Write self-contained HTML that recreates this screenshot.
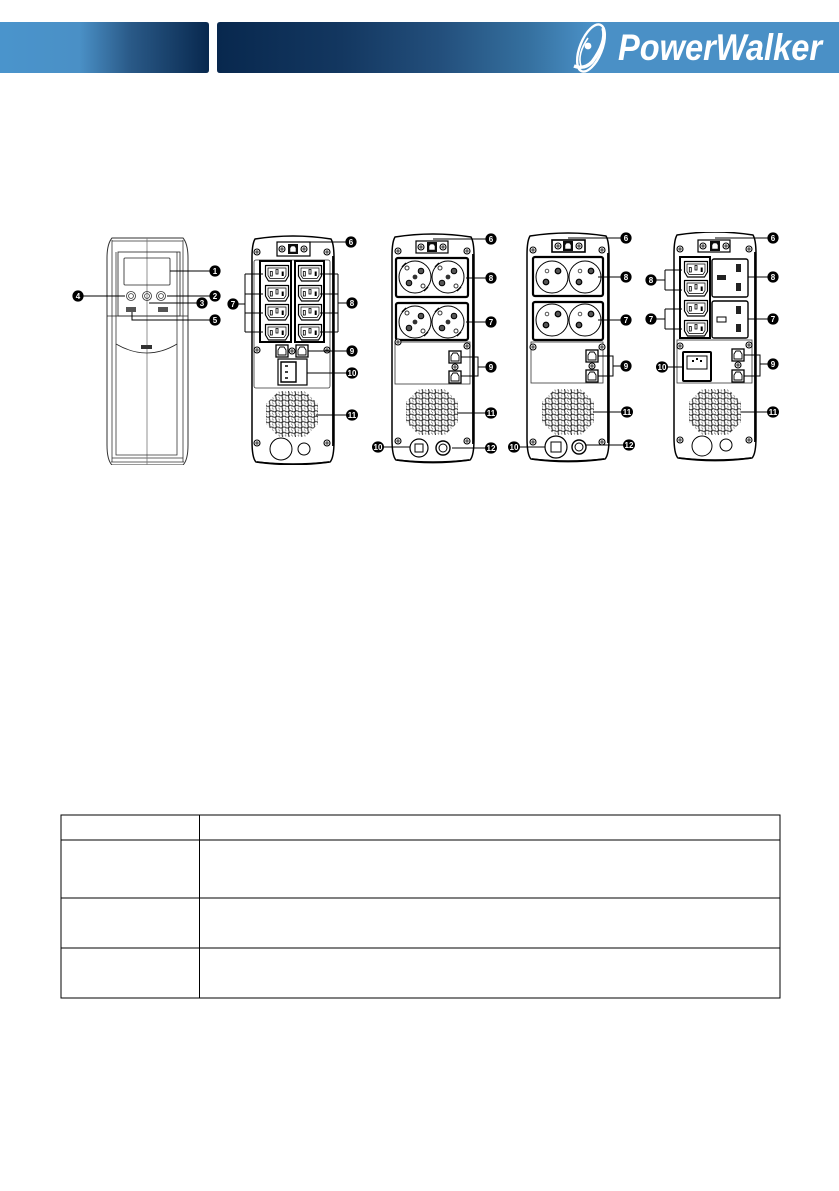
<!DOCTYPE html>
<html><head><meta charset="utf-8">
<style>
html,body{margin:0;padding:0;background:#fff;width:839px;height:1191px;overflow:hidden}
svg{display:block}
text{font-family:"Liberation Sans",sans-serif}
.n{font-size:8px;font-weight:bold;fill:#fff;text-anchor:middle}
</style></head><body>
<svg width="839" height="1191" viewBox="0 0 839 1191" xmlns="http://www.w3.org/2000/svg">
<defs>
<filter id="soft" x="0" y="0" width="1" height="1"><feGaussianBlur stdDeviation="0.3"/></filter>
<linearGradient id="g1" x1="0" x2="1" y1="0" y2="0">
<stop offset="0" stop-color="#4a94cc"/><stop offset=".38" stop-color="#4a90c6"/><stop offset=".62" stop-color="#2a5a88"/><stop offset="1" stop-color="#08284e"/></linearGradient>
<linearGradient id="g2" x1="0" x2="1" y1="0" y2="0">
<stop offset="0" stop-color="#08284e"/><stop offset=".2" stop-color="#133760"/><stop offset=".36" stop-color="#234f7c"/><stop offset=".5" stop-color="#35709f"/><stop offset=".6" stop-color="#4a90c6"/><stop offset="1" stop-color="#4a90c6"/></linearGradient>
<pattern id="mesh" width="6.4" height="5.4" patternUnits="userSpaceOnUse">
<rect width="6.4" height="5.4" fill="#fff"/>
<circle cx="1.6" cy="1.35" r="1.9" fill="#fff" stroke="#222" stroke-width=".9"/><circle cx="4.8" cy="4.05" r="1.9" fill="#fff" stroke="#222" stroke-width=".9"/></pattern>
<polygon id="grill" points="-26,-10 -13,-23 13,-23 26,-10 26,10 13,23 -13,23 -26,10" fill="url(#mesh)"/>
<g id="screw"><circle r="3" fill="#fff" stroke="#000" stroke-width="1.1"/><path d="M-2 0H2M0-2V2" stroke="#000" stroke-width=".8"/></g>
<g id="iec"><path d="M-11.5-7.5H11.5V3L8.5 8H-8.5L-11.5 3Z" fill="#fff" stroke="#000" stroke-width="1.2" stroke-linejoin="round"/>
<path d="M-9-5H9V2.5L7 5.5H-7L-9 2.5Z" fill="#fff" stroke="#000" stroke-width=".7"/>
<rect x="-6.7" y="-1.5" width="2" height="4.5" fill="none" stroke="#000" stroke-width=".8"/>
<rect x="-1" y="-3.5" width="2" height="4.5" fill="none" stroke="#000" stroke-width=".8"/>
<rect x="4.7" y="-1.5" width="2" height="4.5" fill="#000"/></g>
<g id="rj"><rect x="-6" y="-6" width="12" height="12" fill="#fff" stroke="#000" stroke-width="1.3"/>
<path d="M-4 4V-1L-2-4H2L4-1V4Z" fill="none" stroke="#000" stroke-width=".9"/></g>
<g id="usb"><rect x="-5" y="-5" width="10" height="10" fill="#111"/><path d="M-3 3V-1L-1.5-3H1.5L3-1V3Z" fill="#fff" stroke="#000" stroke-width=".5"/></g>
<g id="sch"><circle r="16" fill="#fff" stroke="#000" stroke-width="1"/><circle r="2.4" fill="#333" cx="0" cy="0"/>
<circle cx="-8" cy="-9" r="2" fill="#fff" stroke="#333"/><circle cx="8" cy="9" r="2" fill="#fff" stroke="#333"/>
<circle cx="-6" cy="6" r="2.8" fill="#555" stroke="#000"/><circle cx="6" cy="-6" r="2.8" fill="#555" stroke="#000"/>
<path d="M-13-10-9-14M9 14 13 10" stroke="#000" stroke-width="1.4"/></g>
<g id="fr"><circle r="16" fill="#fff" stroke="#000" stroke-width="1"/>
<circle cx="-5" cy="-6" r="1.8" fill="#fff" stroke="#444" stroke-width=".9"/><circle cx="6" cy="-6" r="2.8" fill="#555" stroke="#000" stroke-width="1.2"/><circle cx="-6" cy="5" r="2.8" fill="#555" stroke="#000" stroke-width="1.2"/></g>
<g id="body"><path d="M2 3Q40-3 78 3Q81 8 81 22V205Q81 222 77 226Q40 230 3 226Q-1 222-1 205V22Q-1 8 2 3Z" fill="#fff" stroke="#000" stroke-width="1.5"/>
<path d="M80 20V210" stroke="#000" stroke-width="1.8"/><path d="M4 226Q40 231 76 226" stroke="#000" stroke-width="1.8" fill="none"/></g>
</defs>

<!-- header -->
<path d="M0 22H206Q209 22 209 25V70Q209 73 206 73H0Z" fill="url(#g1)"/>
<path d="M220 22H839V73H220Q217 73 217 70V25Q217 22 220 22Z" fill="url(#g2)"/>
<g fill="none" stroke="#fff">
<ellipse cx="591" cy="48" rx="11" ry="25" transform="rotate(22 591 48)" stroke-width="2.4"/>
<path d="M603 28Q607 42 592 62Q584 70 574 66" stroke-width="3.4"/>
<path d="M581 66Q577 54 588 38" stroke-width="1.6"/>
</g>
<circle cx="588" cy="46" r="3.4" fill="#fff"/>
<text x="618" y="60" font-size="37" font-weight="bold" font-style="italic" fill="#fff" textLength="204" lengthAdjust="spacingAndGlyphs">PowerWalker</text>

<g filter="url(#soft)">
<!-- front unit -->
<g fill="none" stroke="#333" stroke-width=".8">
<path d="M112 238H183Q188 244 188 258V445Q188 460 183 465H112Q107 460 107 445V258Q107 244 112 238Z" stroke-width="1"/>
<path d="M112 241H183M111 462H184M112 458H183"/>
<path d="M112 240V462M183 240V462M116 252V344M177 252V344"/>
<path d="M147 238V465" stroke="#777"/>
<path d="M107 316H188" stroke="#222"/>
<rect x="118" y="252" width="62" height="64" stroke="#222"/>
<rect x="124" y="258" width="46" height="27" rx="1" stroke="#222"/>
<path d="M116 344Q147 362 177 344" stroke="#222"/>
<path d="M116 344V455H177V344"/>
<circle cx="131" cy="296" r="4.5"/><circle cx="131" cy="296" r="2.4"/>
<circle cx="147" cy="296" r="4.5"/><circle cx="147" cy="296" r="2.4"/>
<circle cx="161" cy="296" r="4.5"/><circle cx="161" cy="296" r="2.4"/>
</g>
<rect x="126" y="307" width="10" height="5" fill="#555"/><rect x="158" y="307" width="10" height="5" fill="#555"/>
<rect x="141" y="345" width="11" height="4" fill="#333"/>
<g stroke="#000" stroke-width="1" fill="none">
<path d="M170 271H210M83 296H125M167 296H210M149 303H197M132 312V320H210"/>
</g>

<!-- unit 2 -->
<use href="#body" x="253" y="236"/>
<rect x="254" y="260" width="76" height="128" rx="2" fill="#fff" stroke="#333" stroke-width=".8"/>
<rect x="260" y="261" width="31" height="81" fill="#fff" stroke="#000" stroke-width="2"/>
<rect x="295" y="261" width="29" height="81" fill="#fff" stroke="#000" stroke-width="2"/>
<use href="#iec" x="277" y="273"/><use href="#iec" x="277" y="293"/><use href="#iec" x="277" y="312"/><use href="#iec" x="277" y="332"/>
<use href="#iec" x="310" y="273"/><use href="#iec" x="310" y="293"/><use href="#iec" x="310" y="312"/><use href="#iec" x="310" y="332"/>
<rect x="277" y="242" width="33" height="14" fill="#fff" stroke="#000" stroke-width="1.2"/>
<use href="#usb" x="293" y="249"/><use href="#screw" x="282" y="249"/><use href="#screw" x="304" y="249"/>
<use href="#screw" x="257" y="252"/><use href="#screw" x="327" y="252"/><use href="#screw" x="257" y="350"/><use href="#screw" x="327" y="350"/><use href="#screw" x="257" y="443"/><use href="#screw" x="327" y="443"/>
<use href="#rj" x="282" y="351"/><use href="#rj" x="302" y="351"/><use href="#screw" x="292" y="351"/>
<rect x="278" y="359" width="29" height="26" fill="#fff" stroke="#000" stroke-width="1.2"/>
<path d="M281 362H296V382H281Z" fill="#fff" stroke="#000" stroke-width="1.4"/>
<path d="M285 366H288M285 372H288M285 378H288" stroke="#000" stroke-width="1.4"/>
<use href="#grill" x="292" y="414"/>
<circle cx="281" cy="449" r="11" fill="#fff" stroke="#000" stroke-width="1"/><circle cx="304" cy="449" r="6" fill="#fff" stroke="#000" stroke-width="1"/>
<g stroke="#000" stroke-width="1" fill="none">
<path d="M293 242H347M245 274H263M245 294H263M245 313H263M245 332H263M245 274V332M237 304H245"/>
<path d="M320 274H338M320 294H338M320 313H338M320 332H338M338 274V332M338 303H347"/>
<path d="M308 351H347M307 373H347M316 415H347"/>
</g>

<!-- unit 3 -->
<use href="#body" x="393" y="234"/>
<rect x="395" y="342" width="75" height="42" fill="#fff" stroke="#333" stroke-width=".8"/>
<rect x="396" y="258" width="72" height="39" rx="2" fill="#fff" stroke="#000" stroke-width="2.2"/>
<rect x="396" y="303" width="72" height="37" rx="2" fill="#fff" stroke="#000" stroke-width="2.2"/>
<use href="#sch" x="415" y="277"/><use href="#sch" x="448" y="277"/><use href="#sch" x="415" y="322"/><use href="#sch" x="448" y="322"/>
<rect x="416" y="241" width="32" height="12" fill="#fff" stroke="#000" stroke-width="1.2"/>
<use href="#usb" x="432" y="247"/><use href="#screw" x="421" y="247"/><use href="#screw" x="443" y="247"/>
<use href="#screw" x="398" y="251"/><use href="#screw" x="467" y="251"/><use href="#screw" x="398" y="342"/><use href="#screw" x="467" y="346"/><use href="#screw" x="398" y="441"/><use href="#screw" x="467" y="441"/>
<use href="#rj" x="455" y="357"/><use href="#rj" x="455" y="377"/><use href="#screw" x="455" y="367"/>
<use href="#grill" x="432" y="412"/>
<circle cx="419" cy="448" r="9" fill="#fff" stroke="#000" stroke-width="1.2"/><rect x="415" y="444" width="8" height="8" fill="#fff" stroke="#000"/>
<circle cx="443" cy="448" r="7" fill="#fff" stroke="#000" stroke-width="1.4"/><circle cx="443" cy="448" r="4" fill="none" stroke="#000"/>
<g stroke="#000" stroke-width="1" fill="none">
<path d="M433 239H486M466 278H486M466 322H486M461 357H478V376H461M478 367H486M457 413H486M382 447H410M452 448H485"/>
</g>

<!-- unit 4 -->
<use href="#body" x="528" y="233"/>
<rect x="531" y="342" width="72" height="41" fill="#fff" stroke="#333" stroke-width=".8"/>
<rect x="533" y="257" width="70" height="39" rx="2" fill="#fff" stroke="#000" stroke-width="2.2"/>
<rect x="533" y="302" width="70" height="38" rx="2" fill="#fff" stroke="#000" stroke-width="2.2"/>
<use href="#fr" x="552" y="277"/><use href="#fr" x="585" y="277"/><use href="#fr" x="552" y="320"/><use href="#fr" x="585" y="320"/>
<rect x="552" y="240" width="33" height="12" fill="#fff" stroke="#000" stroke-width="1.6"/>
<use href="#usb" x="568" y="246"/><use href="#screw" x="558" y="246"/><use href="#screw" x="579" y="246"/>
<use href="#screw" x="533" y="250"/><use href="#screw" x="602" y="250"/><use href="#screw" x="533" y="347"/><use href="#screw" x="602" y="347"/><use href="#screw" x="533" y="442"/><use href="#screw" x="602" y="442"/>
<use href="#rj" x="592" y="356"/><use href="#rj" x="592" y="376"/><use href="#screw" x="592" y="366"/>
<use href="#grill" x="568" y="412"/>
<circle cx="556" cy="447" r="11" fill="#fff" stroke="#000" stroke-width="1.2"/><rect x="551" y="442" width="10" height="10" fill="#fff" stroke="#000"/>
<circle cx="579" cy="447" r="7" fill="#fff" stroke="#000" stroke-width="1.4"/><circle cx="579" cy="447" r="4" fill="none" stroke="#000"/>
<g stroke="#000" stroke-width="1" fill="none">
<path d="M568 238H621M598 277H621M598 320H621M598 356H613V376H598M613 366H621M593 412H621M519 447H545M586 445H624"/>
</g>

<!-- unit 5 -->
<use href="#body" x="675" y="232"/>
<rect x="677" y="340" width="75" height="43" fill="#fff" stroke="#333" stroke-width=".8"/>
<rect x="680" y="257" width="30" height="81" fill="#fff" stroke="#000" stroke-width="2"/>
<use href="#iec" x="696" y="269"/><use href="#iec" x="696" y="288"/><use href="#iec" x="696" y="308"/><use href="#iec" x="696" y="328"/>
<rect x="712" y="259" width="36" height="38" rx="2" fill="#fff" stroke="#000" stroke-width="1.4"/>
<rect x="712" y="301" width="36" height="37" rx="2" fill="#fff" stroke="#000" stroke-width="1.4"/>
<g fill="#222"><rect x="717" y="275" width="9" height="5"/><rect x="736" y="264" width="5" height="8"/><rect x="736" y="283" width="5" height="8"/>
<rect x="736" y="306" width="5" height="8"/><rect x="736" y="324" width="5" height="8"/></g>
<rect x="717" y="317" width="9" height="5" fill="#fff" stroke="#000"/>
<rect x="698" y="240" width="32" height="12" fill="#fff" stroke="#000" stroke-width="1.2"/>
<use href="#usb" x="715" y="246"/><use href="#screw" x="703" y="246"/><use href="#screw" x="726" y="246"/>
<use href="#screw" x="680" y="249"/><use href="#screw" x="749" y="249"/><use href="#screw" x="680" y="346"/><use href="#screw" x="749" y="345"/><use href="#screw" x="680" y="440"/><use href="#screw" x="749" y="440"/>
<rect x="683" y="352" width="28" height="29" rx="1" fill="#fff" stroke="#000" stroke-width="2"/>
<path d="M687 356H707V369H687Z" fill="#fff" stroke="#000"/>
<path d="M692 361H694M696 359H698M700 361H702" stroke="#000" stroke-width="2"/>
<use href="#rj" x="738" y="355"/><use href="#rj" x="738" y="376"/><use href="#screw" x="738" y="365"/>
<use href="#grill" x="715" y="412"/>
<circle cx="702" cy="446" r="10" fill="#fff" stroke="#000" stroke-width="1"/><circle cx="726" cy="445" r="6" fill="#fff" stroke="#000" stroke-width="1"/>
<g stroke="#000" stroke-width="1" fill="none">
<path d="M715 238H768M748 277H768M748 319H768M665 270H682M665 290H682M665 270V290M656 280H665M665 309H682M665 329H682M665 329V309M656 319H665"/>
<path d="M667 367H683M744 355H760V376H744M760 364H768M741 412H768"/>
</g>

<!-- number labels -->
<g>
<circle cx="215" cy="271" r="5.6"/><text class="n" x="215" y="274">1</text>
<circle cx="215" cy="296" r="5.6"/><text class="n" x="215" y="299">2</text>
<circle cx="202" cy="303" r="5.6"/><text class="n" x="202" y="306">3</text>
<circle cx="78" cy="296" r="5.6"/><text class="n" x="78" y="299">4</text>
<circle cx="215" cy="320" r="5.6"/><text class="n" x="215" y="323">5</text>
<circle cx="351" cy="242" r="5.6"/><text class="n" x="351" y="245">6</text>
<circle cx="233" cy="304" r="5.6"/><text class="n" x="233" y="307">7</text>
<circle cx="352" cy="303" r="5.6"/><text class="n" x="352" y="306">8</text>
<circle cx="352" cy="351" r="5.6"/><text class="n" x="352" y="354">9</text>
<ellipse cx="352" cy="373" rx="6" ry="5.6"/><text class="n" x="352" y="376">10</text>
<ellipse cx="352" cy="415" rx="6" ry="5.6"/><text class="n" x="352" y="418">11</text>

<circle cx="491" cy="239" r="5.6"/><text class="n" x="491" y="242">6</text>
<circle cx="491" cy="278" r="5.6"/><text class="n" x="491" y="281">8</text>
<circle cx="491" cy="322" r="5.6"/><text class="n" x="491" y="325">7</text>
<circle cx="491" cy="367" r="5.6"/><text class="n" x="491" y="370">9</text>
<ellipse cx="491" cy="413" rx="6" ry="5.6"/><text class="n" x="491" y="416">11</text>
<ellipse cx="378" cy="447" rx="6" ry="5.6"/><text class="n" x="378" y="450">10</text>
<ellipse cx="491" cy="448" rx="6" ry="5.6"/><text class="n" x="491" y="451">12</text>

<circle cx="626" cy="238" r="5.6"/><text class="n" x="626" y="241">6</text>
<circle cx="626" cy="277" r="5.6"/><text class="n" x="626" y="280">8</text>
<circle cx="626" cy="320" r="5.6"/><text class="n" x="626" y="323">7</text>
<circle cx="626" cy="366" r="5.6"/><text class="n" x="626" y="369">9</text>
<ellipse cx="627" cy="412" rx="6" ry="5.6"/><text class="n" x="627" y="415">11</text>
<ellipse cx="514" cy="447" rx="6" ry="5.6"/><text class="n" x="514" y="450">10</text>
<ellipse cx="629" cy="445" rx="6" ry="5.6"/><text class="n" x="629" y="448">12</text>

<circle cx="773" cy="238" r="5.6"/><text class="n" x="773" y="241">6</text>
<circle cx="773" cy="277" r="5.6"/><text class="n" x="773" y="280">8</text>
<circle cx="773" cy="319" r="5.6"/><text class="n" x="773" y="322">7</text>
<circle cx="651" cy="280" r="5.6"/><text class="n" x="651" y="283">8</text>
<circle cx="651" cy="319" r="5.6"/><text class="n" x="651" y="322">7</text>
<ellipse cx="662" cy="367" rx="6" ry="5.6"/><text class="n" x="662" y="370">10</text>
<circle cx="773" cy="364" r="5.6"/><text class="n" x="773" y="367">9</text>
<ellipse cx="773" cy="412" rx="6" ry="5.6"/><text class="n" x="773" y="415">11</text>
</g>
</g>

<!-- table -->
<g stroke="#000" stroke-width="1.2" fill="none" shape-rendering="crispEdges">
<rect x="61" y="815" width="719" height="183"/>
<path d="M199.5 815V998M61 840H780M61 898H780M61 948H780"/>
</g>
</svg>
</body></html>
